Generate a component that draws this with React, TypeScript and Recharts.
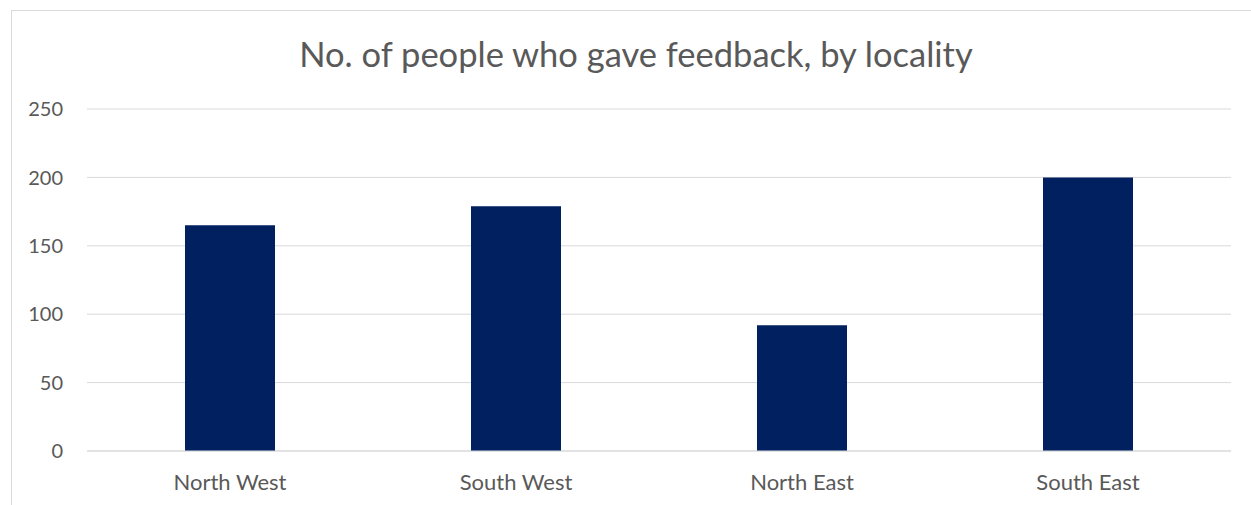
import React from 'react'
import { BarChart, Bar, XAxis, YAxis, CartesianGrid } from 'recharts';

const localities = ['North West', 'South West', 'North East', 'South East'];
const feedbackCounts = [165, 179, 92, 200];
const yTicks = [0, 50, 100, 150, 200, 250];

const data = localities.map((name, i) => ({ name, people: feedbackCounts[i] }));

const font = 'Lato, "Open Sans", sans-serif';

export default function App() {
  return (
    <div style={{ position: 'absolute', left: 0, top: 0, width: 1251, height: 505, background: '#fff', overflow: 'hidden', fontFamily: font }}>
      <div style={{ position: 'absolute', left: 11, top: 10, width: 1300, height: 600, border: '1px solid #d9d9d9' }} />
      <div style={{ position: 'absolute', left: 0, top: 33, width: 1272, textAlign: 'center', fontSize: 34.5, lineHeight: '42px', color: '#595959' }}>
        No. of people who gave feedback, by locality
      </div>
      <div style={{ position: 'absolute', left: 0, top: 0 }}>
        <BarChart width={1251} height={505} data={data}
          margin={{ top: 109, right: 20, bottom: 24, left: 0 }}>
          <CartesianGrid vertical={false} stroke="#d9d9d9" />
          <XAxis dataKey="name" tickLine={false} axisLine={{ stroke: '#d9d9d9' }}
            tickMargin={17} tick={{ fill: '#595959', fontSize: 22, fontFamily: font }} />
          <YAxis width={87} domain={[0, 250]} ticks={yTicks} axisLine={false} tickLine={false}
            tickMargin={18} tick={{ fill: '#595959', fontSize: 20, fontFamily: font }} />
          <Bar dataKey="people" fill="#002060" barSize={90} isAnimationActive={false} />
        </BarChart>
      </div>
    </div>
  );
}
